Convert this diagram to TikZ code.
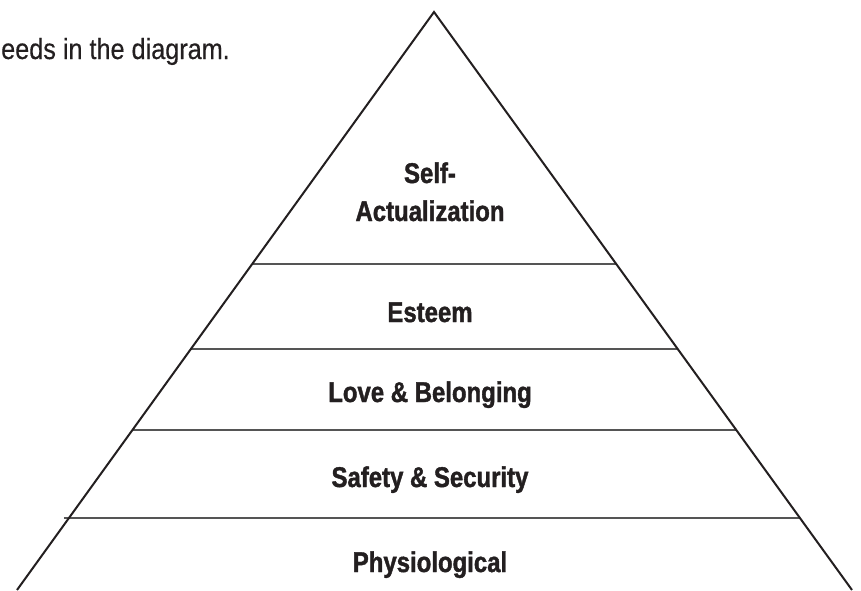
\documentclass[tikz,border=0pt]{standalone}
\usepackage{fontspec}
\setmainfont{Liberation Sans}[FakeStretch=0.84,BoldFeatures={FakeBold=1.4}]
\newfontfamily\introfont{Liberation Sans}[FakeStretch=0.87,FakeBold=0.4]
\usetikzlibrary{calc}
\definecolor{ink}{HTML}{231F20}
\definecolor{rulegray}{HTML}{555555}
\begin{document}
\begin{tikzpicture}[x=1pt,y=-1pt,
  side/.style={draw=ink,line width=2pt,line join=miter},
  tier/.style={draw=rulegray,line width=1.3pt},
  tierlabel/.style={font=\fontsize{28.5}{38}\selectfont\bfseries,text=ink,inner sep=0pt,anchor=base,align=center}]
\useasboundingbox (0,0) rectangle (861,590);
\coordinate (A) at (434,12);
\coordinate (L) at (17,590);
\coordinate (R) at (852,590);
% tier boundaries
\coordinate (l1) at ($(A)!{252/578}!(L)$);
\coordinate (r1) at ($(A)!{252/578}!(R)$);
\coordinate (l2) at ($(A)!{337/578}!(L)$);
\coordinate (r2) at ($(A)!{337/578}!(R)$);
\coordinate (l3) at ($(A)!{418/578}!(L)$);
\coordinate (r3) at ($(A)!{418/578}!(R)$);
\coordinate (l4) at ($(A)!{506/578}!(L)$);
\coordinate (r4) at ($(A)!{506/578}!(R)$);
\draw[tier] (l1) -- (r1);
\draw[tier] (l2) -- (r2);
\draw[tier] (l3) -- (r3);
\draw[tier] ($(l4)+(-5,0)$) -- (r4);
\draw[side] (L) -- (A) -- (R);
% labels
\node[tierlabel] (self) at (430,221) {Self-\\Actualization};
\node[tierlabel] (esteem) at (430,322) {Esteem};
\node[tierlabel] (love) at (430,402) {Love \& Belonging};
\node[tierlabel] (safety) at (430,487) {Safety \& Security};
\node[tierlabel] (phys) at (430,572) {Physiological};
\node[font=\introfont\fontsize{29}{34}\selectfont,text=ink,inner sep=0pt,anchor=base east] (intro) at (230,59) {eeds in the diagram.};
\end{tikzpicture}
\end{document}
